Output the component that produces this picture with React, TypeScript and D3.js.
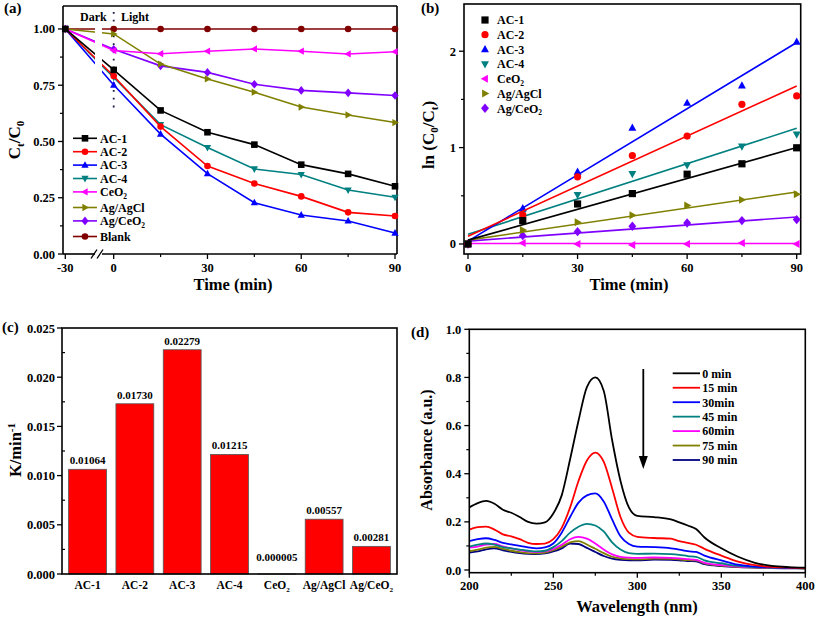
import React from "react";
import * as d3 from "d3";

const FONT = "'Liberation Serif', 'Times New Roman', serif";

// ---------- Panel (a) data ----------
const aTimes = [-30, 0, 15, 30, 45, 60, 75, 90];
const aNames = ["AC-1", "AC-2", "AC-3", "AC-4", "CeO2", "Ag/AgCl", "Ag/CeO2", "Blank"];
const ac1A = [1.0, 0.818, 0.638, 0.541, 0.486, 0.397, 0.356, 0.301];
const ac2A = [1.0, 0.791, 0.566, 0.391, 0.313, 0.256, 0.185, 0.169];
const ac3A = [1.0, 0.751, 0.533, 0.357, 0.228, 0.173, 0.147, 0.093];
const ac4A = [1.0, 0.785, 0.575, 0.473, 0.378, 0.353, 0.284, 0.252];
const ceo2A = [1.0, 0.904, 0.89, 0.901, 0.911, 0.901, 0.889, 0.899];
const agclA = [1.0, 0.978, 0.844, 0.778, 0.719, 0.653, 0.618, 0.584];
const agceA = [1.0, 0.91, 0.836, 0.807, 0.754, 0.727, 0.716, 0.704];
const blankA = [1.0, 1.0, 1.0, 1.0, 1.0, 1.0, 1.0, 1.0];
const aColors = ["#000000", "#ff0000", "#0000ff", "#008080", "#ff00ff", "#808000", "#8000ff", "#800000"];
const aMarkers = ["square", "circle", "triUp", "triDown", "triLeft", "triRight", "diamond", "circle"];

// ---------- Panel (b) data ----------
const bTimes = [0, 15, 30, 45, 60, 75, 90];
const bNames = ["AC-1", "AC-2", "AC-3", "AC-4", "CeO2", "Ag/AgCl", "Ag/CeO2"];
const ac1B = [0, 0.242, 0.415, 0.523, 0.724, 0.832, 0.998];
const ac2B = [0, 0.3, 0.697, 0.918, 1.12, 1.449, 1.536];
const ac3B = [0, 0.37, 0.749, 1.206, 1.463, 1.643, 2.097];
const ac4B = [0, 0.32, 0.51, 0.728, 0.818, 1.012, 1.137];
const ceo2B = [0, 0.01, 0.0, -0.01, 0.0, 0.01, 0.0];
const agclB = [0, 0.145, 0.225, 0.298, 0.399, 0.458, 0.516];
const agceB = [0, 0.086, 0.128, 0.184, 0.218, 0.243, 0.253];
const fitStart = [0.04, 0.08, 0.03, 0.1, 0.005, 0.04, 0.03];
const fitEnd = [1.0, 1.64, 2.09, 1.2, 0.005, 0.54, 0.28];

// ---------- Panel (c) data ----------
const cCats = ["AC-1", "AC-2", "AC-3", "AC-4", "CeO2", "Ag/AgCl", "Ag/CeO2"];
const kValues = [0.01064, 0.0173, 0.02279, 0.01215, 0.000005, 0.00557, 0.00281];
const kLabels = ["0.01064", "0.01730", "0.02279", "0.01215", "0.000005", "0.00557", "0.00281"];
const cYTicks = ["0.000", "0.005", "0.010", "0.015", "0.020", "0.025"];

// ---------- Panel (d) data ----------
const wl = [200, 205, 210, 215, 220, 225, 230, 235, 240, 245, 250, 255, 260, 265, 270, 275, 280, 285, 290, 295, 300, 310, 320, 325, 330, 335, 340, 350, 360, 370, 380, 390, 400];
const abs0 = [0.26, 0.278, 0.287, 0.275, 0.25, 0.238, 0.22, 0.2, 0.193, 0.198, 0.235, 0.31, 0.46, 0.62, 0.76, 0.8, 0.745, 0.54, 0.37, 0.26, 0.225, 0.22, 0.21, 0.198, 0.185, 0.17, 0.135, 0.09, 0.055, 0.03, 0.017, 0.012, 0.01];
const abs15 = [0.168, 0.178, 0.18, 0.168, 0.148, 0.14, 0.128, 0.113, 0.108, 0.11, 0.128, 0.175, 0.26, 0.37, 0.455, 0.488, 0.45, 0.34, 0.22, 0.155, 0.138, 0.133, 0.13, 0.12, 0.113, 0.105, 0.088, 0.06, 0.035, 0.02, 0.013, 0.01, 0.008];
const abs30 = [0.12, 0.128, 0.132, 0.125, 0.113, 0.106, 0.1, 0.094, 0.09, 0.094, 0.11, 0.155, 0.22, 0.28, 0.31, 0.318, 0.285, 0.21, 0.14, 0.108, 0.097, 0.095, 0.09, 0.085, 0.078, 0.075, 0.06, 0.04, 0.022, 0.014, 0.011, 0.009, 0.008];
const abs45 = [0.097, 0.105, 0.11, 0.105, 0.095, 0.09, 0.085, 0.08, 0.077, 0.08, 0.095, 0.12, 0.155, 0.18, 0.192, 0.185, 0.16, 0.115, 0.085, 0.07, 0.067, 0.068, 0.066, 0.063, 0.058, 0.055, 0.04, 0.028, 0.017, 0.012, 0.01, 0.009, 0.008];
const abs60 = [0.093, 0.097, 0.105, 0.108, 0.098, 0.09, 0.083, 0.077, 0.074, 0.077, 0.088, 0.105, 0.128, 0.138, 0.13, 0.11, 0.085, 0.065, 0.055, 0.051, 0.05, 0.052, 0.05, 0.048, 0.045, 0.042, 0.03, 0.02, 0.014, 0.011, 0.01, 0.009, 0.008];
const abs75 = [0.078, 0.085, 0.093, 0.096, 0.088, 0.08, 0.074, 0.07, 0.069, 0.072, 0.082, 0.097, 0.115, 0.12, 0.106, 0.088, 0.07, 0.055, 0.048, 0.045, 0.044, 0.047, 0.046, 0.044, 0.041, 0.04, 0.027, 0.018, 0.013, 0.01, 0.009, 0.008, 0.007];
const abs90 = [0.072, 0.077, 0.086, 0.09, 0.082, 0.075, 0.07, 0.067, 0.066, 0.069, 0.077, 0.09, 0.11, 0.108, 0.092, 0.075, 0.058, 0.047, 0.042, 0.04, 0.04, 0.043, 0.042, 0.04, 0.037, 0.036, 0.024, 0.016, 0.012, 0.01, 0.008, 0.007, 0.006];
const dNames = ["0 min", "15 min", "30min", "45 min", "60min", "75 min", "90 min"];
const dColors = ["#000000", "#ff0000", "#0000ff", "#008080", "#ff00ff", "#808000", "#000080"];

// ---------- helpers ----------
function markerPath(type: string, s: number) {
  switch (type) {
    case "square":
      return `M${-s},${-s}h${2 * s}v${2 * s}h${-2 * s}Z`;
    case "circle":
      return `M${-s},0a${s},${s} 0 1,0 ${2 * s},0a${s},${s} 0 1,0 ${-2 * s},0Z`;
    case "triUp":
      return `M0,${-s * 1.2}L${s * 1.1},${s * 0.8}L${-s * 1.1},${s * 0.8}Z`;
    case "triDown":
      return `M0,${s * 1.2}L${s * 1.1},${-s * 0.8}L${-s * 1.1},${-s * 0.8}Z`;
    case "triLeft":
      return `M${-s * 1.2},0L${s * 0.8},${-s * 1.1}L${s * 0.8},${s * 1.1}Z`;
    case "triRight":
      return `M${s * 1.2},0L${-s * 0.8},${-s * 1.1}L${-s * 0.8},${s * 1.1}Z`;
    case "diamond":
      return `M0,${-s * 1.3}L${s * 1.1},0L0,${s * 1.3}L${-s * 1.1},0Z`;
    default:
      return "";
  }
}

function withSub(text: string, fs: number) {
  const m = text.match(/^(.*O)2(.*)$/);
  if (!m) return text;
  const parts: any[] = [
    <tspan key="a">{m[1]}</tspan>,
    <tspan key="b" dy={fs * 0.22} fontSize={fs * 0.62}>2</tspan>,
  ];
  if (m[2]) parts.push(<tspan key="c" dy={-fs * 0.22}>{m[2]}</tspan>);
  return parts;
}

function Frame({ L, R, T, B }: any) {
  return <rect x={L} y={T} width={R - L} height={B - T} fill="none" stroke="#000" strokeWidth={1.6} />;
}

// ---------- Panel A ----------
function PanelA() {
  const L = 63, R = 397, T = 6, B = 254;
  const x = d3.scaleLinear().domain([-30, 0, 90]).range([65.3, 113.7, 395]);
  const y = d3.scaleLinear().domain([0, 1.102]).range([B, T]);
  const series = [ac1A, ac2A, ac3A, ac4A, ceo2A, agclA, agceA, blankA];
  const line = d3.line<number>().x((_, i) => x(aTimes[i])).y((d) => y(d));
  const yMajor = [0, 0.25, 0.5, 0.75, 1.0];
  const yMinor = [0.125, 0.375, 0.625, 0.875];
  const xMajor = [-30, 0, 30, 60, 90];
  const xMinor = [15, 45, 75];
  const order = [7, 6, 5, 4, 3, 2, 1, 0];
  const legendY: number[] = [];
  let ly = 138.3;
  aNames.forEach((n) => {
    legendY.push(ly);
    ly += 13.4 + (n.includes("O2") ? 2.2 : 0);
  });
  const gapL = 95, gapR = 102;
  return (
    <g>
      <defs>
        <clipPath id="aGap">
          <rect x={L} y={T} width={gapL - L} height={B - T} />
          <rect x={gapR} y={T} width={R - gapR} height={B - T} />
        </clipPath>
      </defs>
      <text x={4} y={13} fontSize={15}>(a)</text>
      <line x1={L} y1={T} x2={R} y2={T} stroke="#000" strokeWidth={1.6} />
      <line x1={L} y1={T} x2={L} y2={B} stroke="#000" strokeWidth={1.6} />
      <line x1={R} y1={T} x2={R} y2={B} stroke="#000" strokeWidth={1.6} />
      <line x1={L} y1={B} x2={gapL} y2={B} stroke="#000" strokeWidth={1.6} />
      <line x1={gapR} y1={B} x2={R} y2={B} stroke="#000" strokeWidth={1.6} />
      <line x1={91} y1={258.5} x2={97} y2={249.5} stroke="#000" strokeWidth={1.3} />
      <line x1={97} y1={258.5} x2={103} y2={249.5} stroke="#000" strokeWidth={1.3} />
      {yMajor.map((v) => (
        <g key={"ym" + v}>
          <line x1={L - 5} x2={L} y1={y(v)} y2={y(v)} stroke="#000" strokeWidth={1.3} />
          <text x={L - 8} y={y(v) + 4.5} fontSize={12.5} textAnchor="end">{v.toFixed(2)}</text>
        </g>
      ))}
      {yMinor.map((v) => (
        <line key={"yn" + v} x1={L - 3} x2={L} y1={y(v)} y2={y(v)} stroke="#000" strokeWidth={1.2} />
      ))}
      {xMajor.map((v) => (
        <g key={"xm" + v}>
          <line x1={x(v)} x2={x(v)} y1={B} y2={B + 5} stroke="#000" strokeWidth={1.3} />
          <text x={x(v)} y={272} fontSize={12.5} textAnchor="middle">{v}</text>
        </g>
      ))}
      {xMinor.map((v) => (
        <line key={"xn" + v} x1={x(v)} x2={x(v)} y1={B} y2={B + 3} stroke="#000" strokeWidth={1.2} />
      ))}
      <text x={233} y={290} fontSize={16.5} textAnchor="middle">Time (min)</text>
      <text transform="translate(20,140) rotate(-90)" fontSize={17} textAnchor="middle">
        C<tspan dy={4} fontSize={11}>t</tspan>
        <tspan dy={-4}>/C</tspan>
        <tspan dy={4} fontSize={11}>0</tspan>
      </text>
      <text x={80} y={21} fontSize={12}>Dark</text>
      <text x={121} y={21} fontSize={12}>Light</text>
      <line x1={x(0)} x2={x(0)} y1={12} y2={108} stroke="#1a1a40" strokeWidth={1.8} strokeDasharray="1.8,6" />
      {order.map((i) => (
        <g key={"s" + i}>
          <path d={line(series[i]) || ""} fill="none" stroke={aColors[i]} strokeWidth={1.6} clipPath="url(#aGap)" />
          {series[i].map((v, j) => (
            <path key={j} d={markerPath(aMarkers[i], 3.3)} transform={`translate(${x(aTimes[j])},${y(v)})`} fill={aColors[i]} />
          ))}
        </g>
      ))}
      {aNames.map((n, i) => (
        <g key={"l" + n}>
          <line x1={73} x2={97} y1={legendY[i]} y2={legendY[i]} stroke={aColors[i]} strokeWidth={1.6} />
          <path d={markerPath(aMarkers[i], 3.3)} transform={`translate(85,${legendY[i]})`} fill={aColors[i]} />
          <text x={100} y={legendY[i] + 4.3} fontSize={12}>{withSub(n, 12)}</text>
        </g>
      ))}
    </g>
  );
}

// ---------- Panel B ----------
function PanelB() {
  const L = 464, R = 800.7, T = 4, B = 254;
  const x = d3.scaleLinear().domain([0, 90]).range([468, 796.7]);
  const y = d3.scaleLinear().domain([-0.104, 2.49]).range([B, T]);
  const series = [ac1B, ac2B, ac3B, ac4B, ceo2B, agclB, agceB];
  const colors = aColors.slice(0, 7);
  const markers = aMarkers.slice(0, 7);
  const yMajor = [0, 1, 2];
  const yMinor = [0.5, 1.5];
  const xMajor = [0, 30, 60, 90];
  const xMinor = [15, 45, 75];
  const order = [6, 5, 4, 3, 2, 1, 0];
  return (
    <g>
      <text x={421} y={13} fontSize={15}>(b)</text>
      <Frame L={L} R={R} T={T} B={B} />
      {yMajor.map((v) => (
        <g key={"ym" + v}>
          <line x1={L - 5} x2={L} y1={y(v)} y2={y(v)} stroke="#000" strokeWidth={1.3} />
          <text x={L - 8} y={y(v) + 4.5} fontSize={12.5} textAnchor="end">{v}</text>
        </g>
      ))}
      {yMinor.map((v) => (
        <line key={"yn" + v} x1={L - 3} x2={L} y1={y(v)} y2={y(v)} stroke="#000" strokeWidth={1.2} />
      ))}
      {xMajor.map((v) => (
        <g key={"xm" + v}>
          <line x1={x(v)} x2={x(v)} y1={B} y2={B + 5} stroke="#000" strokeWidth={1.3} />
          <text x={x(v)} y={272} fontSize={12.5} textAnchor="middle">{v}</text>
        </g>
      ))}
      {xMinor.map((v) => (
        <line key={"xn" + v} x1={x(v)} x2={x(v)} y1={B} y2={B + 3} stroke="#000" strokeWidth={1.2} />
      ))}
      <text x={629} y={290} fontSize={16.5} textAnchor="middle">Time (min)</text>
      <text transform="translate(434,135) rotate(-90)" fontSize={17} textAnchor="middle">
        ln (C<tspan dy={4} fontSize={11}>0</tspan>
        <tspan dy={-4}>/C</tspan>
        <tspan dy={4} fontSize={11}>t</tspan>
        <tspan dy={-4}>)</tspan>
      </text>
      {order.map((i) => (
        <g key={"s" + i}>
          <line x1={x(0)} x2={x(90)} y1={y(fitStart[i])} y2={y(fitEnd[i])} stroke={colors[i]} strokeWidth={1.6} />
          {series[i].map((v, j) => (
            <path key={j} d={markerPath(markers[i], 3.6)} transform={`translate(${x(bTimes[j])},${y(v)})`} fill={colors[i]} />
          ))}
        </g>
      ))}
      {bNames.map((n, i) => {
        const ly = 20 + i * 14.7;
        return (
          <g key={"l" + n}>
            <path d={markerPath(markers[i], 3.6)} transform={`translate(485,${ly})`} fill={colors[i]} />
            <text x={497} y={ly + 4.3} fontSize={12}>{withSub(n, 12)}</text>
          </g>
        );
      })}
    </g>
  );
}

// ---------- Panel C ----------
function PanelC() {
  const L = 62, R = 397, T = 328, B = 574;
  const x = d3.scaleBand().domain(cCats).range([L, R]).paddingInner(0.2).paddingOuter(0.14);
  const y = d3.scaleLinear().domain([0, 0.025]).range([B, T]);
  const minor = [0.0025, 0.0075, 0.0125, 0.0175, 0.0225];
  return (
    <g>
      <text x={2} y={332} fontSize={15}>(c)</text>
      {cCats.map((c, i) => (
        <g key={c}>
          <rect x={x(c)} y={y(kValues[i])} width={x.bandwidth()} height={B - y(kValues[i])} fill="#ff0000" stroke="#555" strokeWidth={0.8} />
          <text x={(x(c) as number) + x.bandwidth() / 2} y={Math.min(y(kValues[i]) - 5, B - 13)} fontSize={11} textAnchor="middle">{kLabels[i]}</text>
          <text x={(x(c) as number) + x.bandwidth() / 2} y={589} fontSize={11.5} textAnchor="middle">{withSub(c, 11.5)}</text>
        </g>
      ))}
      <Frame L={L} R={R} T={T} B={B} />
      {cYTicks.map((t) => (
        <g key={t}>
          <line x1={L - 5} x2={L} y1={y(+t)} y2={y(+t)} stroke="#000" strokeWidth={1.3} />
          <text x={L - 7} y={y(+t) + 4.5} fontSize={12.5} textAnchor="end">{t}</text>
        </g>
      ))}
      {minor.map((v) => (
        <line key={v} x1={L} x2={L + 3} y1={y(v)} y2={y(v)} stroke="#000" strokeWidth={1.2} />
      ))}
      <text transform="translate(21,450) rotate(-90)" fontSize={16.5} textAnchor="middle">
        K/min<tspan dy={-6} fontSize={11}>-1</tspan>
      </text>
    </g>
  );
}

// ---------- Panel D ----------
function PanelD() {
  const L = 469.3, R = 805.3, T = 329.3, B = 572.7;
  const x = d3.scaleLinear().domain([200, 400]).range([L, R]);
  const y = d3.scaleLinear().domain([0, 1]).range([570, T]);
  const series = [abs0, abs15, abs30, abs45, abs60, abs75, abs90];
  const line = d3.line<number>().x((_, i) => x(wl[i])).y((d) => y(d)).curve(d3.curveMonotoneX);
  const yMajor = [0, 0.2, 0.4, 0.6, 0.8, 1.0];
  const yMinor = [0.1, 0.3, 0.5, 0.7, 0.9];
  const xMajor = [200, 250, 300, 350, 400];
  const xMinor = [225, 275, 325, 375];
  const order = [6, 5, 4, 3, 2, 1, 0];
  const ax = 643.3;
  return (
    <g>
      <defs>
        <clipPath id="dClip">
          <rect x={L} y={T} width={R - L} height={B - T} />
        </clipPath>
      </defs>
      <text x={411} y={337} fontSize={15}>(d)</text>
      <g clipPath="url(#dClip)">
        {order.map((i) => (
          <path key={i} d={line(series[i]) || ""} fill="none" stroke={dColors[i]} strokeWidth={1.8} />
        ))}
      </g>
      <Frame L={L} R={R} T={T} B={B} />
      {yMajor.map((v) => (
        <g key={"ym" + v}>
          <line x1={L - 5} x2={L} y1={y(v)} y2={y(v)} stroke="#000" strokeWidth={1.3} />
          <text x={L - 8} y={y(v) + 4.5} fontSize={12.5} textAnchor="end">{v.toFixed(1)}</text>
        </g>
      ))}
      {yMinor.map((v) => (
        <line key={"yn" + v} x1={L - 3} x2={L} y1={y(v)} y2={y(v)} stroke="#000" strokeWidth={1.2} />
      ))}
      {xMajor.map((v) => (
        <g key={"xm" + v}>
          <line x1={x(v)} x2={x(v)} y1={B} y2={B + 5} stroke="#000" strokeWidth={1.3} />
          <text x={x(v)} y={590} fontSize={12.5} textAnchor="middle">{v}</text>
        </g>
      ))}
      {xMinor.map((v) => (
        <line key={"xn" + v} x1={x(v)} x2={x(v)} y1={B} y2={B + 3} stroke="#000" strokeWidth={1.2} />
      ))}
      <text x={637} y={612} fontSize={16.5} textAnchor="middle">Wavelength (nm)</text>
      <text transform="translate(432,450) rotate(-90)" fontSize={16} textAnchor="middle">Absorbance (a.u.)</text>
      <line x1={ax} x2={ax} y1={369} y2={458} stroke="#000" strokeWidth={1.8} />
      <path d={`M${ax - 4.5},456L${ax + 4.5},456L${ax},469Z`} fill="#000" />
      {dNames.map((n, i) => {
        const ly = 373.3 + i * 14.45;
        return (
          <g key={n}>
            <line x1={672.7} x2={700} y1={ly} y2={ly} stroke={dColors[i]} strokeWidth={1.8} />
            <text x={702.3} y={ly + 4.3} fontSize={12}>{n}</text>
          </g>
        );
      })}
    </g>
  );
}

export default function App() {
  return (
    <svg
      width={817}
      height={618}
      style={{ position: "absolute", left: 0, top: 0, background: "#fff", fontFamily: FONT, fontWeight: "bold" }}
    >
      <PanelA />
      <PanelB />
      <PanelC />
      <PanelD />
    </svg>
  );
}
